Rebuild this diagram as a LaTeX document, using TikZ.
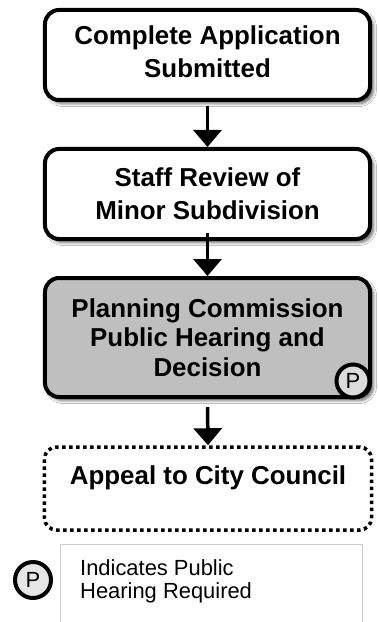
\documentclass[tikz,border=0pt]{standalone}
\usepackage{fontspec}
\setmainfont{Liberation Sans}
\usetikzlibrary{arrows.meta,shadows.blur}
\begin{document}
\begin{tikzpicture}[x=1bp,y=-1bp,
  stepbox/.style={draw=black, line width=4bp, rounded corners=14bp, fill=white,
    minimum width=325bp, minimum height=90bp, align=center, inner sep=0pt,
    font=\bfseries\fontsize{26}{33}\selectfont,
    blur shadow={shadow xshift=3.5bp, shadow yshift=-3.5bp, shadow blur radius=3bp, shadow opacity=60}},
  graybox/.style={stepbox, fill=boxgray, minimum height=119bp,
    font=\bfseries\fontsize{26}{29.5}\selectfont},
  appealbox/.style={draw=black, line width=3.5bp, dash pattern=on 3.5bp off 3.5bp,
    rounded corners=12bp, minimum width=327bp, minimum height=83bp, align=center,
    inner sep=0pt, font=\bfseries\fontsize{26}{33}\selectfont,
    text height=19bp, text depth=28bp},
  pcircle/.style={circle, draw=black, line width=4bp, fill=#1, inner sep=0pt,
    font=\fontsize{22}{22}\selectfont},
  flow/.style={line width=3.5bp, -{Triangle[width=28bp,length=17bp]}},
  legendbox/.style={draw=legendgray, line width=1.5bp, fill=white},
  legendtext/.style={font=\fontsize{22}{24}\selectfont, align=left, anchor=north west, inner sep=0pt}
]
\definecolor{boxgray}{HTML}{BFBFBF}
\definecolor{legendgray}{HTML}{CCCCCC}
\definecolor{circfill}{HTML}{DCDCDC}
\definecolor{legcirc}{HTML}{E6E6E6}
\clip (0,0) rectangle (377,622);
\fill[white] (0,0) rectangle (377,622);

\node[stepbox, text depth=7bp] (b1) at (207.5,55) {Complete Application\\Submitted};
\node[stepbox] (b2) at (207.5,194) {Staff Review of\\Minor Subdivision};
\node[graybox] (b3) at (207.5,337.5) {Planning Commission\\Public Hearing and\\Decision};
\node[appealbox] (b4) at (208,488.5) {Appeal to City Council};
\node[pcircle=circfill, minimum size=33bp] (p1) at (353,381) {P};

\draw[flow] ([yshift=-4bp]b1.south) -- (b2.north);
\draw[flow] ([yshift=8bp]b2.south) -- (b3.north);
\draw[flow] ([yshift=-8bp]b3.south) -- (b4.north);

\node[legendbox, minimum width=302bp, minimum height=100bp, anchor=north west, inner sep=0pt] (leg) at (59.5,543.5) {};
\node[legendtext] (legt) at (80,559) {Indicates Public\\Hearing Required};
\node[pcircle=legcirc, minimum size=36bp] (p2) at (33,580) {P};
\end{tikzpicture}
\end{document}
